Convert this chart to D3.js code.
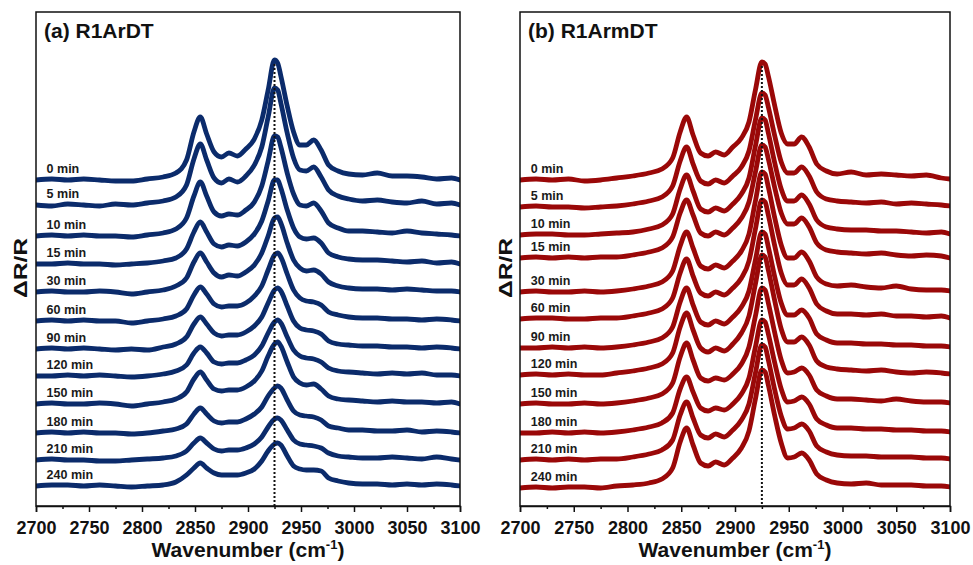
<!DOCTYPE html>
<html>
<head>
<meta charset="utf-8">
<script src="https://cdn.jsdelivr.net/npm/d3@7"></script>
<style>
  html, body { margin: 0; padding: 0; background: #fff; }
  svg { display: block; font-family: "Liberation Sans", Arial, sans-serif; }
</style>
</head>
<body>
<svg id="chart" width="973" height="565"></svg>
<script>
// ---------- data ----------
const wavenumbers = [2700,2715,2730,2745,2760,2775,2790,2805,2820,
  2832,2842,2849,2855,2861,2868,2875,
  2882,2890,2898,2906,2913,2919,
  2925,2928,2931,2937,2943,
  2949,2955,2962,2969,2976,
  2985,2995,3008,3022,3036,3050,3064,3078,3092,3100];

const timeLabels = ["0 min","5 min","10 min","15 min","30 min","60 min","90 min","120 min","150 min","180 min","210 min","240 min"];

const xTickLabels = [2700,2750,2800,2850,2900,2950,3000,3050,3100];
const xMinorTicks = [2725,2775,2825,2875,2925,2975,3025,3075];
const markerWavenumber = 2925;

// stacking offsets (arbitrary ΔR/R units)
const offsetsA = [326,301,270,242,214,185,157,130,102,73,46,20];
const offsetsB = [326,299,271,248,214,187,158,131,102,73,46,18];

// (a) R1ArDT spectra
const seriesA = [
  [0,1,0,1,0,-1,-1,1,3, 7,20,48,63,46,28,23, 27,24,31,41,60,90, 120,117,104,74,48, 35,35,40,30,15, 9,6,5,7,4,4,3,1,2,0],
  [0,-1,1,0,-1,1,0,2,4, 8,20,46,61,45,27,22, 26,23,29,40,58,88, 117,115,102,72,47, 35,34,38,28,15, 9,6,4,5,3,2,4,1,2,0],
  [0,1,0,1,0,0,-1,1,3, 7,18,40,54,40,24,20, 22,21,26,34,50,75, 100,99,89,63,42, 31,30,33,25,13, 8,5,5,4,3,5,3,2,1,0],
  [0,0,1,0,0,-1,0,1,3, 6,15,32,42,32,20,17, 19,18,22,30,43,63, 84,84,76,54,36, 27,25,26,21,11, 7,5,4,4,3,2,3,1,2,0],
  [0,1,0,0,1,0,-2,0,2, 6,14,30,39,30,19,15, 17,16,20,27,39,56, 74,75,69,49,32, 24,21,22,18,10, 6,4,3,3,2,3,2,1,1,0],
  [0,1,0,1,0,0,-2,0,2, 5,12,26,34,27,17,14, 15,15,18,25,35,51, 66,68,64,47,31, 23,20,19,16,9, 6,4,3,3,2,2,1,2,1,0],
  [0,1,0,1,0,-1,0,-1,2, 5,12,25,32,25,16,13, 14,14,17,23,32,46, 59,61,58,43,28, 21,19,18,15,8, 5,4,3,3,2,2,1,2,1,0],
  [0,0,1,0,1,0,-1,0,2, 5,11,23,29,23,14,12, 13,13,16,21,30,43, 54,56,53,39,26, 20,18,17,14,8, 5,4,3,2,3,2,3,1,1,0],
  [0,1,0,0,1,0,-2,0,2, 5,12,25,32,24,15,13, 14,14,17,23,33,48, 60,62,58,42,27, 21,19,20,15,8, 5,4,3,2,3,2,2,1,2,0],
  [0,1,0,1,0,0,-1,0,2, 4,9,19,25,19,12,10, 11,11,14,19,26,37, 45,47,45,33,22, 18,17,16,13,7, 5,3,3,2,2,3,1,2,1,0],
  [0,1,0,0,-1,-1,0,1,2, 4,9,17,22,17,11,9, 10,10,12,16,23,33, 41,42,40,30,20, 16,15,14,12,7, 4,3,2,2,3,2,1,3,1,0],
  [0,1,1,0,1,0,-1,0,1, 4,11,18,23,18,13,11, 11,11,13,17,25,35, 42,43,41,30,20, 17,16,16,15,8, 5,3,2,2,1,2,1,2,1,0]
];

// (b) R1ArmDT spectra
const seriesB = [
  [0,1,0,1,-1,0,2,4,7, 11,22,48,63,45,27,24, 28,25,33,42,58,90, 118,116,104,74,47, 36,36,43,33,16, 9,6,8,5,6,5,4,5,2,1],
  [0,1,0,0,-1,0,1,3,6, 10,21,46,60,43,26,23, 27,24,31,40,56,87, 114,112,100,71,45, 34,34,40,31,15, 8,6,5,4,5,3,4,3,2,1],
  [0,1,1,0,0,1,2,3,6, 10,21,46,60,44,26,23, 27,24,31,41,57,89, 117,115,102,72,46, 34,34,40,31,15, 8,6,5,5,4,4,3,2,3,1],
  [0,1,0,1,0,1,1,3,6, 10,21,45,58,43,25,22, 26,23,30,40,56,86, 113,111,99,70,45, 34,34,40,31,15, 8,6,5,4,5,3,2,3,2,0],
  [0,1,0,0,1,0,1,3,6, 10,21,46,60,44,26,23, 27,24,31,41,58,91, 120,118,105,74,47, 34,34,40,31,15, 8,6,7,5,4,6,3,2,2,1],
  [0,1,1,0,0,1,1,3,6, 10,21,46,60,43,26,23, 27,24,31,41,58,90, 119,117,104,73,46, 34,34,40,31,15, 8,5,5,4,5,3,3,2,3,1],
  [0,0,1,0,1,0,1,3,6, 10,21,46,60,43,26,23, 27,24,31,41,57,88, 116,114,101,71,45, 33,33,38,30,14, 8,5,5,4,4,3,3,2,2,1],
  [0,1,0,1,0,0,2,4,7, 11,22,48,62,45,27,23, 27,24,31,42,59,91, 120,118,105,74,46, 33,33,38,30,14, 8,6,5,4,5,3,2,3,2,1],
  [0,1,0,0,1,0,1,3,6, 10,21,47,61,44,26,23, 26,24,30,40,57,88, 116,114,101,71,44, 31,32,36,29,14, 8,5,5,4,3,5,3,2,2,1],
  [0,0,1,0,1,0,1,3,6, 10,20,44,56,41,25,22, 25,23,29,39,55,86, 113,111,99,70,44, 31,32,36,29,14, 8,5,5,4,4,3,3,2,2,1],
  [0,1,0,1,0,1,1,3,6, 10,20,45,58,42,25,22, 26,23,30,40,56,87, 115,113,100,70,44, 31,32,36,29,14, 8,5,4,4,3,3,3,2,2,1],
  [0,1,0,1,1,0,2,3,5, 9,20,46,60,43,25,22, 26,23,30,40,57,89, 118,116,103,72,45, 30,31,35,28,14, 8,5,4,5,3,3,3,2,2,1]
];

// ---------- drawing ----------
const svg = d3.select("#chart");

const panels = [
  { title: "(a) R1ArDT", series: seriesA, offsets: offsetsA, color: "#0b2b6b",
    left: 36, right: 460, top: 12, bottom: 506, ylabX: 27 },
  { title: "(b) R1ArmDT", series: seriesB, offsets: offsetsB, color: "#9a0808",
    left: 520, right: 950, top: 12, bottom: 506, ylabX: 512 }
];

panels.forEach(p => {
  const g = svg.append("g");
  const x = d3.scaleLinear().domain([2700, 3100]).range([p.left, p.right]);
  const y = d3.scaleLinear().domain([0, p.bottom - p.top]).range([p.bottom, p.top]);

  const line = d3.line()
    .x((d, i) => x(wavenumbers[i]))
    .y(d => y(d))
    .curve(d3.curveMonotoneX);

  const clipId = "clip" + p.left;
  svg.append("clipPath").attr("id", clipId)
    .append("rect").attr("x", p.left).attr("y", p.top)
    .attr("width", p.right - p.left).attr("height", p.bottom - p.top);

  const curves = g.append("g").attr("clip-path", `url(#${clipId})`);
  for (let k = p.series.length - 1; k >= 0; k--) {
    const vals = p.series[k].map(v => v + p.offsets[k]);
    curves.append("path")
      .attr("d", line(vals))
      .attr("fill", "none")
      .attr("stroke", p.color)
      .attr("stroke-width", 4.8)
      .attr("stroke-linejoin", "round")
      .attr("stroke-linecap", "round");
  }

  // dotted marker line at the main peak
  const peakIdx = wavenumbers.indexOf(markerWavenumber);
  const topVal = p.series[0][peakIdx] + p.offsets[0] - 4;
  g.append("line")
    .attr("x1", x(markerWavenumber)).attr("x2", x(markerWavenumber))
    .attr("y1", y(topVal)).attr("y2", p.bottom)
    .attr("stroke", "#111").attr("stroke-width", 2)
    .attr("stroke-dasharray", "2,2");

  // time labels
  timeLabels.forEach((t, k) => {
    g.append("text")
      .attr("x", x(2710))
      .attr("y", y(p.offsets[k] + 7))
      .attr("font-size", 12.5)
      .attr("font-weight", "bold")
      .attr("fill", "#1a1a1a")
      .text(t);
  });

  // frame
  g.append("rect")
    .attr("x", p.left).attr("y", p.top)
    .attr("width", p.right - p.left).attr("height", p.bottom - p.top)
    .attr("fill", "none").attr("stroke", "#111").attr("stroke-width", 1.5);

  // x axis: major ticks with labels
  const axis = d3.axisBottom(x).tickValues(xTickLabels).tickSize(6).tickPadding(9)
    .tickFormat(d3.format("d"));
  const ax = g.append("g").attr("transform", `translate(0,${p.bottom})`).call(axis);
  ax.select(".domain").attr("stroke", "#111").attr("stroke-width", 1.5);
  ax.selectAll(".tick line").attr("stroke", "#111").attr("stroke-width", 1.5);
  ax.selectAll(".tick text")
    .attr("font-size", 18).attr("font-weight", "bold")
    .attr("fill", "#111").attr("font-family", "Liberation Sans, Arial, sans-serif");
  // minor ticks
  const minor = d3.axisBottom(x).tickValues(xMinorTicks).tickSize(3).tickFormat("");
  const mx = g.append("g").attr("transform", `translate(0,${p.bottom})`).call(minor);
  mx.select(".domain").remove();
  mx.selectAll(".tick line").attr("stroke", "#111").attr("stroke-width", 1.5);

  // x axis title
  const xt = g.append("text")
    .attr("x", (p.left + p.right) / 2)
    .attr("y", 557)
    .attr("text-anchor", "middle")
    .attr("font-size", 21)
    .attr("font-weight", "bold")
    .attr("fill", "#111");
  xt.append("tspan").text("Wavenumber (cm");
  xt.append("tspan").attr("font-size", 13).attr("dy", -8).text("-1");
  xt.append("tspan").attr("dy", 8).text(")");

  // y axis title
  g.append("text")
    .attr("transform", `translate(${p.ylabX},${268}) rotate(-90)`)
    .attr("text-anchor", "middle")
    .attr("font-size", 18)
    .attr("font-weight", "bold")
    .attr("fill", "#111")
    .attr("textLength", 60)
    .attr("lengthAdjust", "spacingAndGlyphs")
    .text("ΔR/R");

  // panel title
  g.append("text")
    .attr("x", p.left + 8)
    .attr("y", 38)
    .attr("font-size", 21)
    .attr("font-weight", "bold")
    .attr("fill", "#111")
    .text(p.title);
});
</script>
</body>
</html>
